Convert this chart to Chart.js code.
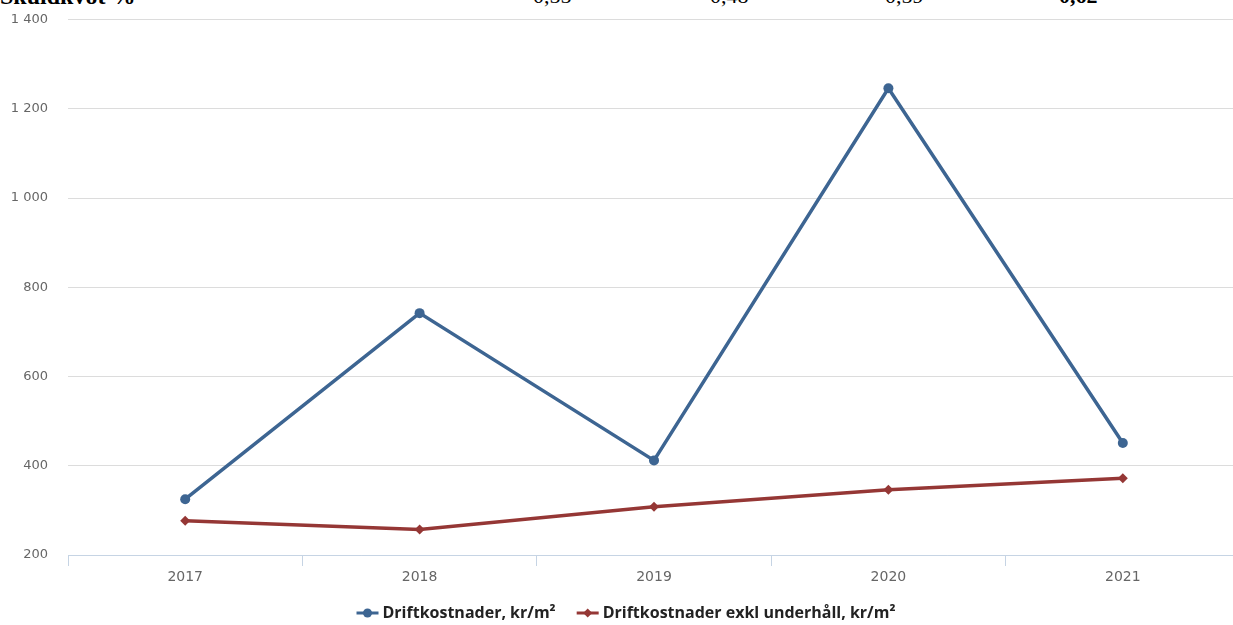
<!DOCTYPE html>
<html>
<head>
<meta charset="utf-8">
<script src="https://cdn.jsdelivr.net/npm/chart.js@4.4.0/dist/chart.umd.min.js"></script>
<style>
  html, body { margin: 0; padding: 0; background: #fff; overflow: hidden; width: 1233px; height: 625px; }
  #wrap { position: absolute; left: 0; top: 0; width: 1245px; height: 625px; }
  .top { position: absolute; top: -17px; font-family: "Liberation Serif", serif; font-size: 22px; color: #000; white-space: nowrap; }
</style>
</head>
<body>
<div class="top" style="left:0;font-weight:bold;font-size:24px">Skuldkvot %</div>
<div class="top" style="left:533px">0,55</div>
<div class="top" style="left:710px">0,48</div>
<div class="top" style="left:885px">0,59</div>
<div class="top" style="left:1059px;font-weight:bold">0,62</div>
<div id="wrap"><canvas id="chart"></canvas></div>
<script>
const years = ['2017', '2018', '2019', '2020', '2021'];
const driftkostnader = [325, 742, 412, 1246, 451];
const exklUnderhall = [277, 257, 308, 346, 372];
const yTicks = [200, 400, 600, 800, 1000, 1200, 1400];

const blue = '#3d6592';
const red = '#953735';

// legend drawn by hand: line + marker + label, centred under the chart
const legendPlugin = {
  id: 'lineLegend',
  afterDraw(chart) {
    const ctx = chart.ctx;
    ctx.save();
    ctx.font = 'bold 16px "Open Sans", sans-serif';
    ctx.textBaseline = 'middle';
    const items = chart.data.datasets.map(ds => ({
      text: ds.label, color: ds.borderColor, style: ds.pointStyle
    }));
    const sym = 22, gap = 4, between = 21;
    let total = 0;
    items.forEach(it => { it.w = ctx.measureText(it.text).width; total += sym + gap + it.w; });
    total += between * (items.length - 1);
    let x = 626 - total / 2;
    const y = 613;
    items.forEach(it => {
      ctx.strokeStyle = it.color;
      ctx.fillStyle = it.color;
      ctx.lineWidth = 3;
      ctx.beginPath();
      ctx.moveTo(x, y);
      ctx.lineTo(x + sym, y);
      ctx.stroke();
      const cx = x + sym / 2;
      ctx.beginPath();
      if (it.style === 'circle') {
        ctx.arc(cx, y, 4.5, 0, Math.PI * 2);
      } else {
        ctx.moveTo(cx, y - 4.5); ctx.lineTo(cx + 4.5, y); ctx.lineTo(cx, y + 4.5); ctx.lineTo(cx - 4.5, y);
        ctx.closePath();
      }
      ctx.fill();
      ctx.fillStyle = '#222';
      ctx.fillText(it.text, x + sym + gap, y);
      x += sym + gap + it.w + between;
    });
    ctx.restore();
  }
};

new Chart(document.getElementById('chart'), {
  type: 'line',
  data: {
    labels: years,
    datasets: [{
      label: 'Driftkostnader, kr/m²',
      data: driftkostnader,
      borderColor: blue,
      backgroundColor: blue,
      borderWidth: 3.5,
      pointStyle: 'circle',
      pointRadius: 5,
      pointBorderWidth: 0,
      tension: 0
    }, {
      label: 'Driftkostnader exkl underhåll, kr/m²',
      data: exklUnderhall,
      borderColor: red,
      backgroundColor: red,
      borderWidth: 3.5,
      pointStyle: 'rectRot',
      pointRadius: 5,
      pointBorderWidth: 0,
      tension: 0
    }]
  },
  options: {
    responsive: true,
    maintainAspectRatio: false,
    animation: false,
    layout: { padding: { left: 10, right: 4, top: 19.5, bottom: 40 } },
    plugins: {
      legend: { display: false },
      tooltip: { enabled: false }
    },
    scales: {
      y: {
        min: 200,
        max: 1400,
        afterBuildTicks: s => { s.ticks = yTicks.map(v => ({ value: v })); },
        afterFit: s => { s.width = 58; s.paddingTop = 0; s.paddingBottom = 0; },
        ticks: {
          padding: 20,
          color: '#666',
          font: { family: '"DejaVu Sans", sans-serif', size: 13 },
          callback: v => String(v).replace(/\B(?=(\d{3})+(?!\d))/g, ' ')
        },
        grid: { color: '#dcdcdc', lineWidth: 1, drawTicks: false },
        border: { display: false }
      },
      x: {
        offset: true,
        afterFit: s => { s.height = 30; },
        ticks: {
          padding: 3,
          color: '#666',
          font: { family: '"DejaVu Sans", sans-serif', size: 14 }
        },
        grid: { offset: true, drawOnChartArea: false, drawTicks: true, tickLength: 11, color: '#c6d4e4' },
        border: { display: true, color: '#c6d4e4', width: 1 }
      }
    }
  },
  plugins: [legendPlugin]
});
</script>
</body>
</html>
